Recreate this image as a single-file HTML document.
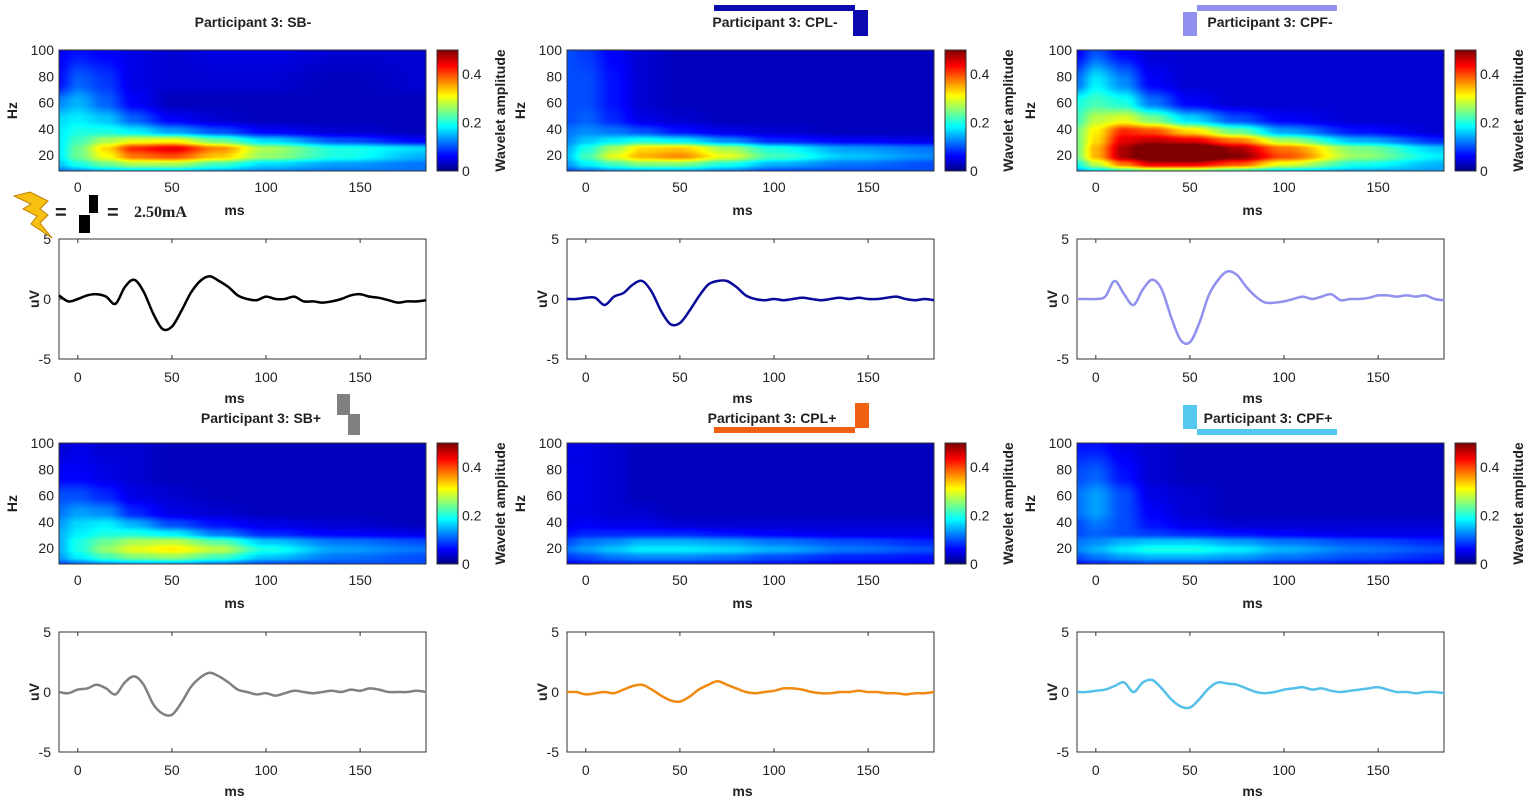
<!DOCTYPE html>
<html><head><meta charset="utf-8"><style>
body{margin:0;background:#fff;width:1535px;height:805px;overflow:hidden;position:relative;font-family:"Liberation Sans",Arial,sans-serif}
canvas{position:absolute}
svg{position:absolute;left:0;top:0}
text{font-family:"Liberation Sans",Arial,sans-serif;font-size:14px;fill:#222}
.b{font-weight:bold}
</style></head><body>
<div id="cv"></div>
<svg id="s" width="1535" height="805"></svg>
<script>
const times=[-10,0,15,30,50,75,100,140,185];
const freqs=[8,13,19,25,31,38,47,60,75,100];
const hmSBm=[[.12,.14,.16,.17,.17,.15,.13,.12,.12],[.16,.2,.24,.27,.27,.22,.17,.14,.12],[.18,.24,.31,.38,.4,.34,.26,.2,.15],[.18,.24,.33,.42,.45,.37,.27,.2,.17],[.18,.22,.27,.3,.31,.24,.17,.1,.06],[.18,.2,.2,.18,.14,.1,.06,.04,.03],[.17,.18,.16,.11,.06,.04,.03,.03,.03],[.13,.15,.11,.06,.03,.03,.03,.03,.03],[.07,.11,.09,.05,.04,.04,.04,.03,.04],[.06,.07,.06,.05,.04,.05,.05,.04,.04]];
const hmCPLm=[[.1,.12,.14,.15,.15,.13,.1,.1,.1],[.14,.18,.22,.25,.25,.2,.15,.12,.1],[.16,.22,.3,.35,.37,.3,.22,.16,.13],[.15,.2,.27,.33,.34,.27,.2,.14,.12],[.13,.16,.18,.2,.18,.13,.08,.06,.05],[.12,.13,.12,.1,.07,.05,.04,.03,.03],[.1,.11,.08,.05,.04,.03,.03,.03,.03],[.1,.1,.07,.04,.03,.03,.03,.03,.03],[.1,.1,.07,.04,.03,.03,.03,.03,.03],[.1,.09,.06,.04,.03,.03,.03,.03,.03]];
const hmCPFm=[[.15,.18,.22,.25,.25,.22,.18,.15,.14],[.2,.28,.38,.45,.45,.4,.3,.2,.15],[.25,.35,.48,.55,.58,.5,.4,.26,.18],[.25,.35,.48,.55,.56,.48,.38,.25,.16],[.25,.33,.45,.47,.45,.38,.27,.15,.08],[.25,.32,.42,.4,.33,.24,.14,.07,.04],[.22,.28,.3,.25,.17,.1,.06,.04,.04],[.2,.22,.2,.12,.06,.04,.04,.04,.04],[.12,.18,.13,.06,.04,.04,.04,.04,.04],[.06,.1,.06,.04,.04,.04,.04,.04,.04]];
const hmSBp=[[.1,.12,.14,.15,.15,.13,.1,.1,.1],[.14,.18,.22,.25,.26,.22,.16,.12,.1],[.15,.2,.26,.3,.32,.28,.2,.14,.12],[.15,.2,.24,.27,.28,.23,.16,.12,.1],[.15,.18,.2,.2,.18,.12,.08,.06,.05],[.14,.17,.18,.15,.1,.07,.05,.04,.03],[.12,.14,.13,.08,.05,.04,.03,.03,.03],[.1,.1,.08,.05,.04,.03,.03,.03,.03],[.06,.06,.05,.04,.03,.03,.03,.03,.03],[.04,.05,.04,.04,.03,.03,.03,.03,.03]];
const hmCPLp=[[.06,.07,.08,.08,.08,.08,.07,.06,.06],[.09,.1,.12,.13,.13,.12,.1,.08,.07],[.12,.14,.16,.18,.18,.17,.15,.12,.1],[.1,.12,.13,.15,.15,.14,.12,.1,.08],[.07,.08,.08,.08,.08,.07,.06,.05,.05],[.05,.06,.05,.05,.04,.04,.04,.04,.04],[.05,.05,.04,.04,.03,.03,.03,.03,.03],[.05,.05,.04,.03,.03,.03,.03,.03,.03],[.05,.05,.04,.03,.03,.03,.03,.03,.03],[.05,.05,.04,.03,.03,.03,.03,.03,.03]];
const hmCPFp=[[.07,.08,.09,.1,.1,.09,.08,.07,.06],[.1,.12,.14,.15,.15,.14,.12,.1,.08],[.13,.15,.18,.2,.2,.18,.15,.12,.1],[.12,.13,.15,.16,.16,.14,.12,.1,.08],[.1,.11,.1,.09,.08,.07,.06,.05,.05],[.1,.12,.1,.07,.05,.04,.04,.04,.04],[.12,.14,.1,.06,.04,.03,.03,.03,.03],[.12,.14,.1,.05,.04,.03,.03,.03,.03],[.1,.11,.07,.04,.03,.03,.03,.03,.03],[.07,.07,.05,.04,.03,.03,.03,.03,.03]];
const erpT0=-10, erpStep=5;
const erpSBm=[0.3,-0.2,0,0.3,0.4,0.2,-0.4,1.0,1.6,0.6,-1.2,-2.5,-2.3,-1.0,0.5,1.5,1.9,1.5,1.0,0.3,0,-0.1,0.2,0,0,0.2,-0.2,-0.2,-0.3,-0.2,0,0.3,0.4,0.2,0.1,-0.1,-0.3,-0.2,-0.2,-0.1];
const erpCPLm=[0,0,0.1,0.1,-0.5,0.2,0.5,1.2,1.5,0.6,-1.0,-2.1,-2.0,-1.0,0.2,1.2,1.5,1.5,1.0,0.3,0,-0.1,0,-0.1,0,0.1,0,-0.1,0,0.1,0,0.1,0,0,0.1,0.2,0,-0.1,0,-0.1];
const erpCPFm=[0,0,0,0.2,1.5,0.4,-0.5,0.8,1.6,0.8,-1.5,-3.4,-3.6,-2.0,0.3,1.6,2.3,2.0,1.0,0.2,-0.3,-0.3,-0.2,0,0.2,0,0.2,0.4,-0.1,0,0,0.1,0.3,0.3,0.2,0.3,0.2,0.3,0,-0.1];
const erpSBp=[0,-0.1,0.2,0.3,0.6,0.3,-0.2,0.8,1.3,0.6,-1.0,-1.8,-1.9,-0.9,0.4,1.2,1.6,1.3,0.8,0.2,0,-0.2,-0.1,-0.3,-0.1,0.1,0,-0.1,0,0.1,0,0.2,0.1,0.3,0.2,0,0,0,0.1,0];
const erpCPLp=[0,0,-0.2,-0.1,0,-0.1,0.2,0.5,0.6,0.2,-0.3,-0.7,-0.8,-0.4,0.2,0.6,0.9,0.6,0.3,0,-0.1,0,0.1,0.3,0.3,0.2,0,-0.1,-0.1,0,0,0.1,0,0,-0.1,-0.1,-0.2,-0.1,-0.1,0];
const erpCPFp=[0,0,0.1,0.2,0.5,0.8,0,0.8,1.0,0.3,-0.6,-1.2,-1.3,-0.6,0.3,0.8,0.7,0.6,0.3,0,-0.1,0,0.2,0.3,0.4,0.2,0.3,0.1,0,0.1,0.2,0.3,0.4,0.2,0,0,-0.1,0,0,-0.1];
const titles=["Participant 3: SB-","Participant 3: CPL-","Participant 3: CPF-","Participant 3: SB+","Participant 3: CPL+","Participant 3: CPF+"];
const xTicks=[0,50,100,150], hzTicks=[20,40,60,80,100], uvTicks=[-5,0,5], cbTicks=[0,0.2,0.4];

const hms=[hmSBm,hmCPLm,hmCPFm,hmSBp,hmCPLp,hmCPFp];
const erps=[erpSBm,erpCPLm,erpCPFm,erpSBp,erpCPLp,erpCPFp];
const colors=["#000","#0a0a9a","#9090ee","#808080","#f08a10","#55c0ea"];
const titleX=[253,775,1270,261,772,1268];
const lefts=[59,567,1077], W=367, hmTops=[50,443], HH=121, erpTops=[239,632], EH=120;
const S=document.getElementById('s'), CV=document.getElementById('cv');
const NS="http://www.w3.org/2000/svg";
function el(t,a,txt){const e=document.createElementNS(NS,t);for(const k in a)e.setAttribute(k,a[k]);if(txt!==undefined)e.textContent=txt;S.appendChild(e);return e;}
function jet(v){v=Math.max(0,Math.min(1,v));const r=Math.min(4*v-1.5,-4*v+4.5),g=Math.min(4*v-0.5,-4*v+3.5),b=Math.min(4*v+0.5,-4*v+2.5);return [r,g,b].map(c=>Math.round(255*Math.max(0,Math.min(1,c))));}
function interp(arr,x){if(x<=arr[0])return [0,0];for(let i=0;i<arr.length-1;i++)if(x<=arr[i+1]){let a=(x-arr[i])/(arr[i+1]-arr[i]);a=a*a*(3-2*a);return [i,a];}return [arr.length-2,1];}
const tmin=-10,tmax=185,fmin=8,fmax=100;
function sx(L,t){return L+(t-tmin)/(tmax-tmin)*W;}
function sy(T,f){return T+HH-(f-fmin)/(fmax-fmin)*HH;}
function uy(T,v){return T+EH/2-v/5*(EH/2);}
function smooth(pts){let d='M'+pts[0][0].toFixed(1)+','+pts[0][1].toFixed(1);
 for(let i=0;i<pts.length-1;i++){const p0=pts[Math.max(0,i-1)],p1=pts[i],p2=pts[i+1],p3=pts[Math.min(pts.length-1,i+2)];
  const c1=[p1[0]+(p2[0]-p0[0])/6,p1[1]+(p2[1]-p0[1])/6],c2=[p2[0]-(p3[0]-p1[0])/6,p2[1]-(p3[1]-p1[1])/6];
  d+=` C${c1[0].toFixed(1)},${c1[1].toFixed(1)} ${c2[0].toFixed(1)},${c2[1].toFixed(1)} ${p2[0].toFixed(1)},${p2[1].toFixed(1)}`;}
 return d;}

for(let p=0;p<6;p++){
 const c=p%3,r=Math.floor(p/3),L=lefts[c],T=hmTops[r],E=erpTops[r],grid=hms[p];
 const cv=document.createElement('canvas');cv.width=W;cv.height=HH;cv.style.left=L+'px';cv.style.top=T+'px';
 
 
 CV.appendChild(cv);
 const ctx=cv.getContext('2d'),img=ctx.createImageData(W,HH);
 for(let y=0;y<HH;y++){const f=fmax-(y+0.5)/HH*(fmax-fmin);const [fi,fa]=interp(freqs,f);
  for(let x=0;x<W;x++){const t=tmin+(x+0.5)/W*(tmax-tmin);const [ti,ta]=interp(times,t);
   const v=(grid[fi][ti]*(1-ta)+grid[fi][ti+1]*ta)*(1-fa)+(grid[fi+1][ti]*(1-ta)+grid[fi+1][ti+1]*ta)*fa;
   const col=jet(v/0.5);const o=(y*W+x)*4;img.data[o]=col[0];img.data[o+1]=col[1];img.data[o+2]=col[2];img.data[o+3]=255;}}
 ctx.putImageData(img,0,0);
 const cb=document.createElement('canvas');cb.width=21;cb.height=HH;cb.style.left=(L+378)+'px';cb.style.top=T+'px';
 
 
 CV.appendChild(cb);
 const cx=cb.getContext('2d');for(let y=0;y<HH;y++){const col=jet(1-y/HH);cx.fillStyle=`rgb(${col})`;cx.fillRect(0,y,21,1);}
 el('rect',{x:L+378,y:T,width:21,height:HH,fill:'none',stroke:'#333','stroke-width':1,});
 cbTicks.forEach(v=>{const yy=T+HH-v/0.5*HH;el('text',{x:L+403,y:yy+5,},String(v));});
 el('text',{class:'b',transform:`translate(${L+446},${T+HH/2}) rotate(-90)`,'text-anchor':'middle',},'Wavelet amplitude');
 el('rect',{x:L,y:T,width:W,height:HH,fill:'none',stroke:'#333','stroke-width':1,});
 el('text',{class:'b',x:titleX[p],y:r?423:27,'text-anchor':'middle',},titles[p]);
 hzTicks.forEach(f=>{const yy=sy(T,f);el('text',{x:L-5,y:yy+5,'text-anchor':'end',},f);});
 el('text',{class:'b',transform:`translate(${L-42},${T+HH/2}) rotate(-90)`,'text-anchor':'middle',},'Hz');
 xTicks.forEach(t=>{const xx=sx(L,t);el('text',{x:xx,y:T+HH+21,'text-anchor':'middle',},t);});
 el('text',{class:'b',x:L+W/2-8,y:T+HH+44,'text-anchor':'middle',},'ms');
 el('rect',{x:L,y:E,width:W,height:EH,fill:'#fff',stroke:'#333','stroke-width':1,});
 xTicks.forEach(t=>{const xx=sx(L,t);el('line',{x1:xx,x2:xx,y1:E,y2:E+4,stroke:'#333',});el('line',{x1:xx,x2:xx,y1:E+EH,y2:E+EH-4,stroke:'#333',});
  el('text',{x:xx,y:E+EH+23,'text-anchor':'middle',},t);});
 uvTicks.forEach(v=>{const yy=uy(E,v);el('text',{x:L-8,y:yy+5,'text-anchor':'end',},v);
  el('line',{x1:L,x2:L+4,y1:yy,y2:yy,stroke:'#333',});});
 el('text',{class:'b',transform:`translate(${L-20},${E+EH/2}) rotate(-90)`,'text-anchor':'middle',},'uV');
 el('text',{class:'b',x:L+W/2-8,y:E+EH+44,'text-anchor':'middle',},'ms');
 const pts=erps[p].map((v,i)=>[sx(L,erpT0+i*erpStep),uy(E,v)]);
 el('path',{d:smooth(pts),fill:'none',stroke:colors[p],'stroke-width':2.5,'stroke-linejoin':'round',});
}
function R(x,y,w,h,f,n){el('rect',{x:x,y:y,width:w,height:h,fill:f,});}
R(714,5,141,6,'#0a0ab0','cpl-minus-icon');R(853,10,15,26,'#0a0ab0','cpl-minus-icon-block');
R(1183,12,14,24,'#9090ee','cpf-minus-icon-block');R(1197,5,140,6,'#9090ee','cpf-minus-icon');
R(337,394,13,21,'#808080','sb-plus-icon');R(348,414,12,21,'#808080','sb-plus-icon-2');
R(714,427,141,6,'#f06010','cpl-plus-icon');R(855,403,14,25,'#f06010','cpl-plus-icon-block');
R(1183,405,14,24,'#55c8f0','cpf-plus-icon-block');R(1197,429,140,6,'#55c8f0','cpf-plus-icon');
el('polygon',{points:'30,192 48,201 40,209 48,215 40,223 52,238 31,224 37,216 23,209 31,204 14,196',fill:'#f8c010',stroke:'#c08000','stroke-width':1,});
el('text',{x:55,y:219,style:'font-size:20px;font-weight:bold',},'=');
R(79,215,11,18,'#000','pulse-icon-low');R(89,195,9,18,'#000','pulse-icon-high');
el('text',{x:107,y:219,style:'font-size:20px;font-weight:bold',},'=');
el('text',{x:134,y:217,style:'font-family:"Liberation Serif",serif;font-size:16px;font-weight:bold',},'2.50mA');
</script>
</body></html>
